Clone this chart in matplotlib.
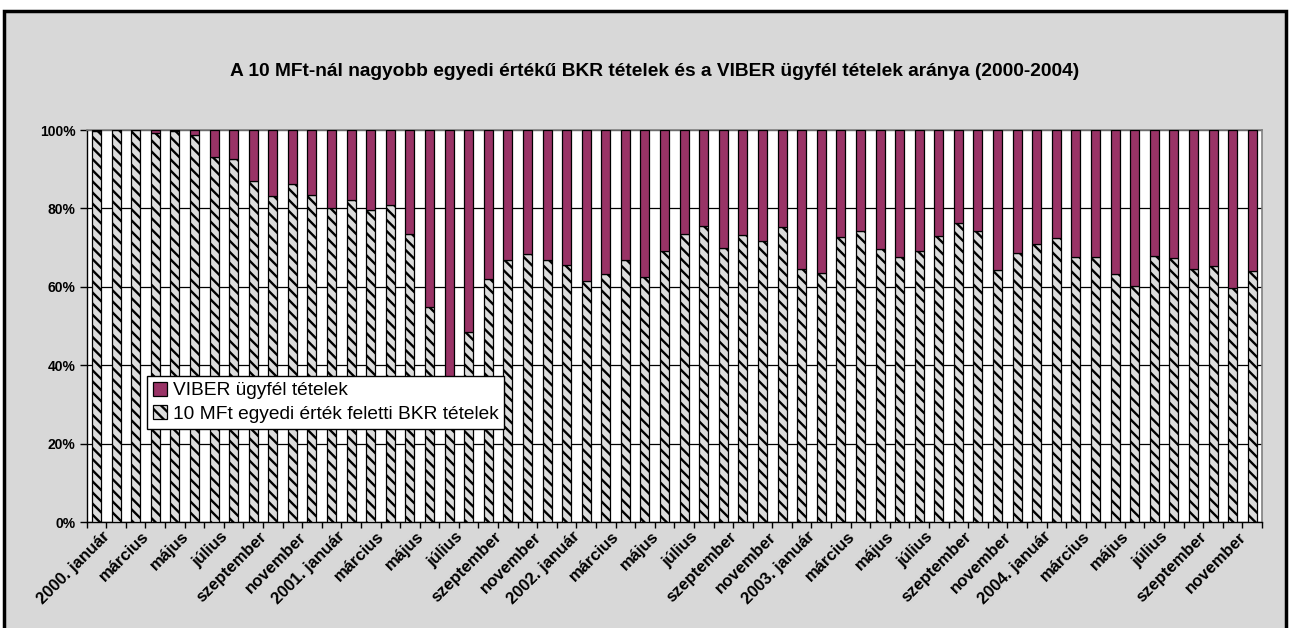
import matplotlib
matplotlib.use("Agg")
import matplotlib.pyplot as plt
from matplotlib.patches import Rectangle, Patch
from matplotlib.ticker import FixedLocator, PercentFormatter

# ---- data -------------------------------------------------------------
months = ["január", "február", "március", "április", "május", "június",
          "július", "augusztus", "szeptember", "október", "november", "december"]
years = [2000, 2001, 2002, 2003, 2004]

bkr_share = [99.8, 100.0, 99.9, 99.3, 99.8, 98.8, 93.0, 92.5, 87.0, 83.2, 86.2, 83.3,
             80.2, 82.1, 79.6, 80.9, 73.4, 54.8, 30.0, 48.5, 61.9, 66.8, 68.3, 66.8,
             65.5, 61.6, 63.3, 66.9, 62.4, 69.1, 73.5, 75.4, 70.0, 73.2, 71.6, 75.3,
             64.5, 63.4, 72.8, 74.3, 69.6, 67.5, 69.2, 72.9, 76.2, 74.2, 64.3, 68.5,
             70.8, 72.5, 67.7, 67.5, 63.2, 60.1, 67.9, 67.4, 64.5, 65.2, 59.6, 64.0]
viber_share = [0.2, 0.0, 0.1, 0.7, 0.2, 1.2, 7.0, 7.5, 13.0, 16.8, 13.8, 16.7,
               19.8, 17.9, 20.4, 19.1, 26.6, 45.2, 70.0, 51.5, 38.1, 33.2, 31.7, 33.2,
               34.5, 38.4, 36.7, 33.1, 37.6, 30.9, 26.5, 24.6, 30.0, 26.8, 28.4, 24.7,
               35.5, 36.6, 27.2, 25.7, 30.4, 32.5, 30.8, 27.1, 23.8, 25.8, 35.7, 31.5,
               29.2, 27.5, 32.3, 32.5, 36.8, 39.9, 32.1, 32.6, 35.5, 34.8, 40.4, 36.0]

series_names = ["VIBER ügyfél tételek", "10 MFt egyedi érték feletti BKR tételek"]
title = "A 10 MFt-nál nagyobb egyedi értékű BKR tételek és a VIBER ügyfél tételek aránya (2000-2004)"

labels = []
for y in years:
    for i, m in enumerate(months):
        labels.append(f"{y}. {m}" if i == 0 else m)

# ---- style ------------------------------------------------------------
plt.rcParams["font.family"] = ["Liberation Sans", "DejaVu Sans"]
plt.rcParams["hatch.linewidth"] = 1.7
purple = "#993366"
bg = "#d8d8d8"

W, H = 1290, 628
fig = plt.figure(figsize=(W / 100, H / 100), dpi=100, facecolor="white")

# outer chart area with border
fig.patches.append(Rectangle((4 / W, -0.1), (1286 - 4) / W, 1.1 - 11 / H,
                             transform=fig.transFigure, facecolor=bg,
                             edgecolor="black", linewidth=2.5, zorder=-5))

ax = fig.add_axes([86.7 / W, 1 - 522 / H, (1262 - 86.7) / W, (522 - 130) / H])
ax.set_zorder(1)
ax.set_facecolor("white")

x = list(range(len(bkr_share)))
bw = 0.46
ax.bar(x, bkr_share, width=bw, color="#dcdcdc", edgecolor="black",
       hatch="\\\\\\", linewidth=0.9, zorder=3)
ax.bar(x, viber_share, width=bw, bottom=bkr_share, color=purple,
       edgecolor="black", linewidth=0.9, zorder=3)

ax.set_xlim(-0.5, len(x) - 0.5)
ax.set_ylim(0, 100)
ax.yaxis.set_major_locator(FixedLocator([0, 20, 40, 60, 80, 100]))
ax.yaxis.set_major_formatter(PercentFormatter(decimals=0))
ax.grid(axis="y", color="black", linewidth=0.9, zorder=1)
ax.set_axisbelow(True)

for s in ["top", "right"]:
    ax.spines[s].set_color("#808080")
    ax.spines[s].set_linewidth(1.2)
for s in ["left", "bottom"]:
    ax.spines[s].set_color("black")
    ax.spines[s].set_linewidth(1.0)

ax.tick_params(axis="y", direction="out", length=5, width=1, labelsize=10,
               pad=3)
for t in ax.get_yticklabels():
    t.set_fontweight("bold")

# x ticks: marks at category boundaries, labels every second category
ax.set_xticks([k - 0.5 for k in range(len(x) + 1)])
ax.set_xticklabels([])
ax.tick_params(axis="x", direction="out", length=4, width=1)
for k in range(0, len(x), 2):
    ax.text(k + 0.3, -1.8, labels[k], rotation=45, ha="right", va="top",
            rotation_mode="anchor", fontsize=12, fontweight="bold",
            transform=ax.transData, clip_on=False)

fig.text(655 / W, 1 - 72 / H, title, ha="center", va="center",
         fontsize=13.8, fontweight="bold")

handles = [Patch(facecolor=purple, edgecolor="black", linewidth=0.9),
           Patch(facecolor="#dcdcdc", edgecolor="black", hatch="\\\\\\", linewidth=0.9)]
leg = fig.legend(handles, series_names, loc="upper left",
                 bbox_to_anchor=(147 / W, 1 - 376 / H), bbox_transform=fig.transFigure,
                 frameon=True, fancybox=False, fontsize=13.8, borderaxespad=0,
                 handlelength=0.75, handleheight=0.75, handletextpad=0.3,
                 borderpad=0.3, labelspacing=0.3)
leg.get_frame().set_edgecolor("black")
leg.get_frame().set_linewidth(1.0)
leg.get_frame().set_facecolor("white")
leg.get_frame().set_alpha(1)
leg.set_zorder(10)

fig.savefig("out.png", dpi=100, facecolor="white")
